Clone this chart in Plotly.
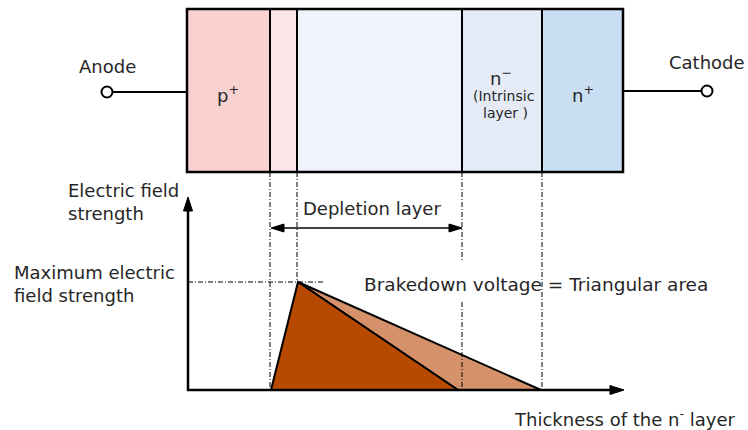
import plotly.graph_objects as go

# ---- data -------------------------------------------------------------
# device layers (anode -> cathode), boundaries along the device (arb. units)
layer_names = ["p+", "p", "depletion", "n-", "n+"]
layer_edges = [0, 83, 110, 275, 355, 436]
layer_colors = ["#F9D1D1", "#FBE5E7", "#EFF4FC", "#E4EBF7", "#CBDFF4"]

# electric-field profiles (normalised to maximum field = 1)
field_thin_x = [84, 111, 271]      # thin n- layer (punch-through)
field_thin_E = [0, 1, 0]
field_thick_x = [111, 354, 271]    # extra area for thicker n- layer
field_thick_E = [1, 0, 0]

FONT = "DejaVu Sans"
TXT = "#262626"

fig = go.Figure()

# field triangles through data axes
fig.add_trace(go.Scatter(
    x=field_thick_x + [field_thick_x[0]], y=field_thick_E + [field_thick_E[0]],
    fill="toself", fillcolor="#D4916A", mode="lines",
    line=dict(color="black", width=2), hoverinfo="skip", showlegend=False))
fig.add_trace(go.Scatter(
    x=field_thin_x + [field_thin_x[0]], y=field_thin_E + [field_thin_E[0]],
    fill="toself", fillcolor="#B84A00", mode="lines",
    line=dict(color="black", width=2), hoverinfo="skip", showlegend=False))
# invisible trace to anchor pixel overlay axes
fig.add_trace(go.Scatter(x=[0], y=[0], xaxis="x2", yaxis="y2", mode="markers",
                         marker=dict(opacity=0), hoverinfo="skip", showlegend=False))

shapes = []
DASH = "5px,2px,1px,2px"

# layer boxes
for i, c in enumerate(layer_colors):
    shapes.append(dict(type="rect", xref="x", yref="y2",
                       x0=layer_edges[i], x1=layer_edges[i + 1], y0=9, y1=172,
                       fillcolor=c, line=dict(width=0), layer="below"))
for e in layer_edges[1:-1]:
    shapes.append(dict(type="line", xref="x", yref="y2", x0=e, x1=e, y0=9, y1=172,
                       line=dict(color="black", width=2)))
shapes.append(dict(type="rect", xref="x", yref="y2",
                   x0=layer_edges[0], x1=layer_edges[-1], y0=9, y1=172,
                   line=dict(color="black", width=2.5)))

# dash-dot guide lines
shapes.append(dict(type="line", xref="x", yref="y2", x0=layer_edges[1], x1=layer_edges[1],
                   y0=172, y1=390, line=dict(color="black", width=1, dash=DASH), layer="below"))
shapes.append(dict(type="line", xref="x", yref="y2", x0=layer_edges[2], x1=layer_edges[2],
                   y0=172, y1=282, line=dict(color="black", width=1, dash=DASH), layer="below"))
shapes.append(dict(type="line", xref="x", yref="y2", x0=layer_edges[3], x1=layer_edges[3],
                   y0=172, y1=262, line=dict(color="black", width=1, dash=DASH), layer="below"))
shapes.append(dict(type="line", xref="x", yref="y2", x0=layer_edges[3], x1=layer_edges[3],
                   y0=302, y1=390, line=dict(color="black", width=1, dash=DASH)))
shapes.append(dict(type="line", xref="x", yref="y2", x0=layer_edges[4], x1=layer_edges[4],
                   y0=172, y1=390, line=dict(color="black", width=1, dash=DASH)))
shapes.append(dict(type="line", xref="x2", yref="y2", x0=188, x1=325, y0=282, y1=282,
                   line=dict(color="black", width=1, dash=DASH), layer="below"))

# axes with arrows
shapes.append(dict(type="path", xref="x2", yref="y2", path="M 188 206 L 188 390 L 614 390",
                   line=dict(color="black", width=2.5)))
shapes.append(dict(type="path", xref="x2", yref="y2", path="M 188 197 L 183.5 211 L 192.5 211 Z",
                   fillcolor="black", line=dict(color="black", width=1)))
shapes.append(dict(type="path", xref="x2", yref="y2", path="M 624 390 L 610 385.5 L 610 394.5 Z",
                   fillcolor="black", line=dict(color="black", width=1)))

# depletion double arrow
shapes.append(dict(type="line", xref="x2", yref="y2", x0=278, x1=455, y0=228, y1=228,
                   line=dict(color="black", width=1.5)))
shapes.append(dict(type="path", xref="x2", yref="y2", path="M 271 228 L 284 224 L 284 232 Z",
                   fillcolor="black", line=dict(color="black", width=1)))
shapes.append(dict(type="path", xref="x2", yref="y2", path="M 462 228 L 449 224 L 449 232 Z",
                   fillcolor="black", line=dict(color="black", width=1)))

# terminals
shapes.append(dict(type="line", xref="x2", yref="y2", x0=113, x1=187, y0=92, y1=92,
                   line=dict(color="black", width=2)))
shapes.append(dict(type="circle", xref="x2", yref="y2", x0=101.5, x1=112.5, y0=86.5, y1=97.5,
                   fillcolor="white", line=dict(color="black", width=2)))
shapes.append(dict(type="line", xref="x2", yref="y2", x0=623, x1=701, y0=91, y1=91,
                   line=dict(color="black", width=2)))
shapes.append(dict(type="circle", xref="x2", yref="y2", x0=701.5, x1=712.5, y0=85.5, y1=96.5,
                   fillcolor="white", line=dict(color="black", width=2)))


def ann(text, x, y, size=18, xanchor="center", align="center"):
    return dict(text=text, x=x, y=y, xref="x2", yref="y2", showarrow=False,
                xanchor=xanchor, yanchor="middle", align=align,
                font=dict(family=FONT, size=size, color=TXT))


annotations = [
    ann("Anode", 107, 66),
    ann("Cathode", 707, 62),
    ann("p<sup>+</sup>", 228, 94),
    ann("n<sup>+</sup>", 583, 94),
    ann("n<sup>−</sup>", 501, 77),
    ann("(Intrinsic", 503, 96, size=14),
    ann("layer )", 505, 113, size=14),
    ann("Electric field<br>strength", 66, 202, xanchor="left", align="left"),
    ann("Depletion layer", 372, 208),
    ann("Maximum electric<br>field strength", 12, 284, xanchor="left", align="left"),
    ann("Brakedown voltage = Triangular area", 536, 284, size=18.5),
    ann("Thickness of the n<sup>-</sup> layer", 624, 418),
]

fig.update_layout(
    width=748, height=430, margin=dict(l=0, r=0, t=0, b=0),
    paper_bgcolor="white", plot_bgcolor="white", showlegend=False,
    xaxis=dict(range=[-187, 561], visible=False, fixedrange=True),
    yaxis=dict(range=[-40 / 108, 390 / 108], visible=False, fixedrange=True),
    xaxis2=dict(range=[0, 748], visible=False, overlaying="x", anchor="y2", fixedrange=True),
    yaxis2=dict(range=[430, 0], visible=False, overlaying="y", anchor="x2", fixedrange=True),
    shapes=shapes, annotations=annotations,
)

fig.write_html("out.html", config={"displayModeBar": False},
               post_script="document.body.style.margin='0';document.body.style.overflow='hidden';")
